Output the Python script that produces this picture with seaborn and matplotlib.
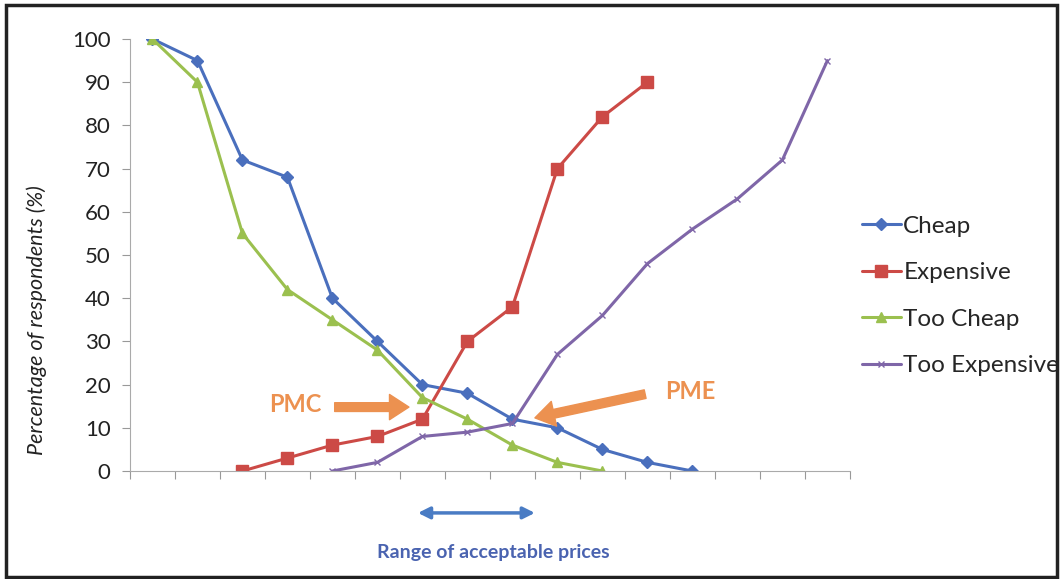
import matplotlib
matplotlib.use("Agg")
import matplotlib.pyplot as plt
import seaborn as sns
import pandas as pd

# price points (categories, no labels shown on the axis)
price_idx = [0, 1, 2, 3, 4, 5, 6, 7, 8, 9, 10, 11, 12, 13, 14, 15]

cheap_x = [0, 1, 2, 3, 4, 5, 6, 7, 8, 9, 10, 11, 12]
cheap_y = [100, 95, 72, 68, 40, 30, 20, 18, 12, 10, 5, 2, 0]

expensive_x = [2, 3, 4, 5, 6, 7, 8, 9, 10, 11]
expensive_y = [0, 3, 6, 8, 12, 30, 38, 70, 82, 90]

too_cheap_x = [0, 1, 2, 3, 4, 5, 6, 7, 8, 9, 10]
too_cheap_y = [100, 90, 55, 42, 35, 28, 17, 12, 6, 2, 0]

too_exp_x = [4, 5, 6, 7, 8, 9, 10, 11, 12, 13, 14, 15]
too_exp_y = [0, 2, 8, 9, 11, 27, 36, 48, 56, 63, 72, 95]

sns.set_style("white")
plt.rcParams['font.family'] = ['Lato', 'DejaVu Sans']

fig = plt.figure(figsize=(10.61, 5.79), dpi=100)
ax = fig.add_axes([0.1225, 0.1865, 0.6785, 0.7461])

series = [
    ("Cheap", cheap_x, cheap_y, "#4a6fbd", "D", 6),
    ("Expensive", expensive_x, expensive_y, "#cc4a46", "s", 9),
    ("Too Cheap", too_cheap_x, too_cheap_y, "#9bc04f", "^", 7),
    ("Too Expensive", too_exp_x, too_exp_y, "#7f66a8", "x", 4),
]
for name, xs, ys, col, mk, ms in series:
    df = pd.DataFrame({"price": xs, "pct": ys})
    sns.lineplot(data=df, x="price", y="pct", ax=ax, color=col, marker=mk,
                 markersize=ms, linewidth=2.2, label=name,
                 markeredgecolor=col, markeredgewidth=1)

ax.set_xlim(price_idx[0] - 0.5, price_idx[-1] + 0.5)
ax.set_ylim(0, 100)
ax.set_yticks(range(0, 101, 10))
ax.set_xticks([p - 0.5 for p in price_idx] + [price_idx[-1] + 0.5])
ax.set_xticklabels([])
ax.tick_params(axis='y', labelsize=16, length=6, pad=8, color="#999999", colors="#222222")
ax.tick_params(axis='x', length=6, color="#999999")
ax.tick_params(axis='both', direction='out', left=True, bottom=True)
for s in ["top", "right"]:
    ax.spines[s].set_visible(False)
for s in ["left", "bottom"]:
    ax.spines[s].set_color("#aaaaaa")
ax.set_xlabel("")
ax.set_ylabel("Percentage of respondents (%)", fontsize=15.5, style="italic",
              color="#222222")
ax.yaxis.set_label_coords(-0.115, 0.35)

leg = ax.legend(loc="center left", bbox_to_anchor=(1.0, 0.405), frameon=False,
                fontsize=17.5, handlelength=1.6, handletextpad=0.1, labelspacing=1.05,
                borderaxespad=0.1)

orange = "#ec9150"
ax.text(3.17, 15.3, "PMC", color=orange, fontsize=17, fontweight="bold",
        ha="center", va="center")
ax.annotate("", xy=(5.7, 14.8), xytext=(4.05, 14.8),
            arrowprops=dict(arrowstyle="simple,head_width=1.3,head_length=1.0,tail_width=0.45",
                            color=orange, mutation_scale=14, shrinkA=0, shrinkB=0))
ax.text(11.95, 18.3, "PME", color=orange, fontsize=17, fontweight="bold",
        ha="center", va="center")
ax.annotate("", xy=(8.5, 12.3), xytext=(10.95, 17.8),
            arrowprops=dict(arrowstyle="simple,head_width=1.3,head_length=1.0,tail_width=0.45",
                            color=orange, mutation_scale=14, shrinkA=0, shrinkB=0))

ax.annotate("", xy=(8.5, -9.7), xytext=(5.9, -9.7), annotation_clip=False,
            arrowprops=dict(arrowstyle="<|-|>,head_width=0.35,head_length=0.7",
                            color="#4a7cc4", lw=2.5, shrinkA=0, shrinkB=0))
ax.text(7.57, -18.8, "Range of acceptable prices", color="#4a63b0", fontsize=14,
        fontweight="bold", ha="center", va="center", clip_on=False)

fig.patches.append(plt.Rectangle((0.006, 0.004), 0.99, 0.988, transform=fig.transFigure,
                                 fill=False, edgecolor="#222222", linewidth=2.5))

fig.savefig("out.png", dpi=100)
